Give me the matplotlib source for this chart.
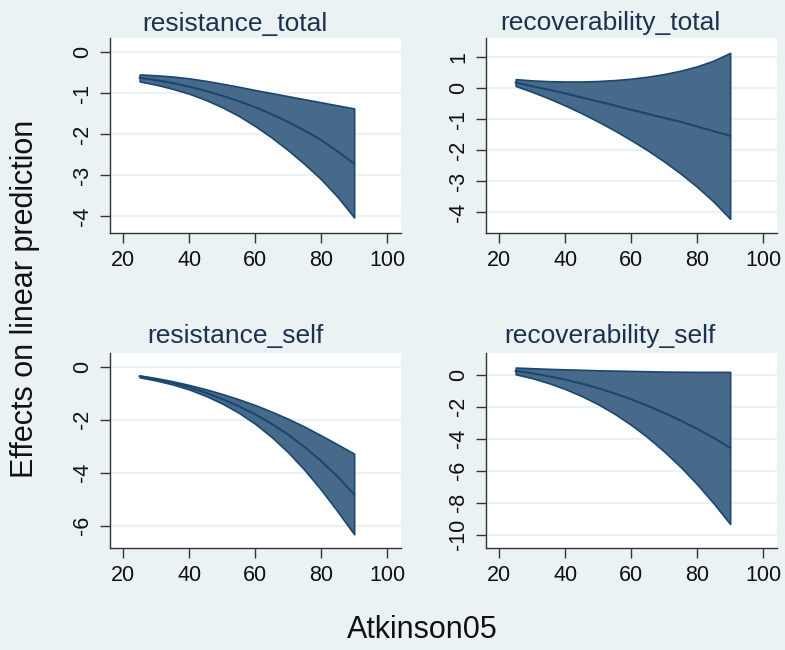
import numpy as np
import matplotlib
matplotlib.use("Agg")
import matplotlib.pyplot as plt

plt.rcParams['font.family'] = ['Liberation Sans', 'DejaVu Sans']

# Atkinson05 grid
x = [25, 30, 35, 40, 45, 50, 55, 60, 65, 70, 75, 80, 85, 90]

# resistance_total
rt_mean = [-0.62, -0.68, -0.75, -0.84, -0.94, -1.06, -1.19, -1.34, -1.51, -1.70, -1.91, -2.14, -2.42, -2.72]
rt_low = [-0.71, -0.79, -0.89, -1.01, -1.16, -1.34, -1.55, -1.80, -2.08, -2.39, -2.73, -3.10, -3.53, -4.03]
rt_up = [-0.54, -0.56, -0.59, -0.635, -0.695, -0.765, -0.84, -0.92, -0.995, -1.07, -1.145, -1.22, -1.295, -1.37]

# recoverability_total
ct_mean = [0.18, 0.06, -0.05, -0.17, -0.30, -0.43, -0.56, -0.70, -0.83, -0.96, -1.09, -1.24, -1.39, -1.54]
ct_low = [0.07, -0.12, -0.33, -0.56, -0.81, -1.08, -1.37, -1.68, -2.01, -2.37, -2.76, -3.19, -3.67, -4.22]
ct_up = [0.29, 0.25, 0.225, 0.215, 0.215, 0.23, 0.26, 0.305, 0.37, 0.455, 0.565, 0.705, 0.89, 1.14]

# resistance_self
rs_mean = [-0.35, -0.46, -0.60, -0.77, -0.97, -1.21, -1.48, -1.79, -2.15, -2.56, -3.03, -3.56, -4.15, -4.82]
rs_low = [-0.39, -0.51, -0.66, -0.85, -1.09, -1.38, -1.73, -2.15, -2.65, -3.23, -3.90, -4.65, -5.47, -6.33]
rs_up = [-0.32, -0.42, -0.54, -0.68, -0.84, -1.02, -1.22, -1.44, -1.69, -1.96, -2.26, -2.59, -2.93, -3.28]

# recoverability_self
cs_mean = [0.23, 0.08, -0.10, -0.31, -0.56, -0.85, -1.18, -1.54, -1.95, -2.39, -2.87, -3.39, -3.95, -4.58]
cs_low = [0.02, -0.22, -0.53, -0.90, -1.34, -1.85, -2.45, -3.14, -3.92, -4.80, -5.77, -6.85, -8.04, -9.33]
cs_up = [0.44, 0.40, 0.36, 0.33, 0.30, 0.27, 0.25, 0.23, 0.21, 0.19, 0.18, 0.17, 0.17, 0.17]

titles = ["resistance_total", "recoverability_total", "resistance_self", "recoverability_self"]
panels = [(rt_mean, rt_low, rt_up), (ct_mean, ct_low, ct_up),
          (rs_mean, rs_low, rs_up), (cs_mean, cs_low, cs_up)]
yticks = [[0, -1, -2, -3, -4], [1, 0, -1, -2, -3, -4],
          [0, -2, -4, -6], [0, -2, -4, -6, -8, -10]]
ylims = [(-4.41, 0.35), (-4.68, 1.62), (-6.85, 0.53), (-10.83, 1.35)]
xticks = [20, 40, 60, 80, 100]

bg = '#EAF2F3'
fill = '#476A8A'
edge = '#1A476F'

W, H = 785, 650
fig = plt.figure(figsize=(W / 100, H / 100), dpi=100, facecolor=bg)

# axes boxes in pixels: left, top, right, bottom
boxes = [(110, 38, 401, 233), (486, 38, 777, 233),
         (110, 353, 401, 548), (486, 353, 777, 548)]
title_pos = [(235, 31), (610, 30), (235, 343), (610, 343)]

for i, (l, t, r, b) in enumerate(boxes):
    ax = fig.add_axes([l / W, 1 - b / H, (r - l) / W, (b - t) / H])
    ax.set_facecolor('white')
    m, lo, up = panels[i]
    ax.fill_between(x, lo, up, facecolor=fill, edgecolor=edge, linewidth=1.2, zorder=2)
    ax.plot(x, m, color=edge, linewidth=1.5, zorder=3)
    ax.set_xlim(16, 104.2)
    ax.set_ylim(*ylims[i])
    ax.set_xticks(xticks)
    ax.set_yticks(yticks[i])
    ax.set_yticklabels([str(v) for v in yticks[i]], rotation=90, va='center')
    ax.grid(axis='y', color=bg, linewidth=1.6, zorder=0)
    ax.set_axisbelow(True)
    for s in ['top', 'right']:
        ax.spines[s].set_visible(False)
    for s in ['left', 'bottom']:
        ax.spines[s].set_color('#333333')
        ax.spines[s].set_linewidth(1.0)
    ax.tick_params(direction='out', length=7, width=1, color='#333333',
                   labelsize=15.5, labelcolor='#111111', pad=5)
    tx, ty = title_pos[i]
    fig.text(tx / W, 1 - ty / H, titles[i], ha='center', va='baseline',
             fontsize=19, color='#1E3250')

fig.text(25 / W, 1 - 299 / H, 'Effects on linear prediction', rotation=90,
         ha='center', va='center', fontsize=22, color='#111111')
fig.text(422 / W, 1 - 630 / H, 'Atkinson05', ha='center', va='center',
         fontsize=22, color='#111111')

fig.savefig('out.png', dpi=100, facecolor=bg)
